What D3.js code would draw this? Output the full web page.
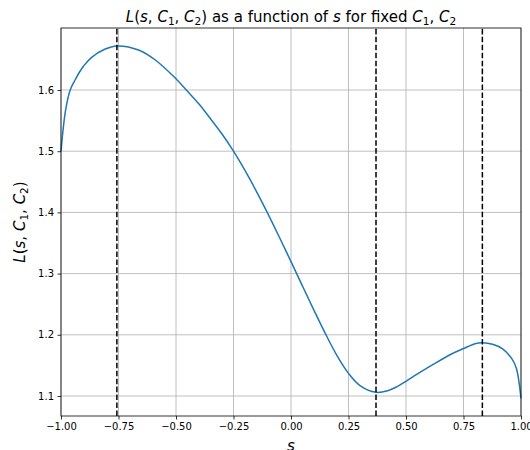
<!DOCTYPE html>
<html>
<head>
<meta charset="utf-8">
<script src="https://cdn.jsdelivr.net/npm/d3@7"></script>
<style>
  body { margin: 0; background: #fff; }
  text { font-family: "DejaVu Sans", sans-serif; }
</style>
</head>
<body>
<script>
'use strict';

// values
const sValues = [-1.00, -0.98, -0.96, -0.94, -0.92, -0.90, -0.868, -0.81, -0.757, -0.66, -0.59,
  -0.51, -0.45, -0.40, -0.35, -0.30, -0.25, -0.18, -0.11, -0.05, 0.00, 0.05, 0.10, 0.15,
  0.20, 0.25, 0.30, 0.3696, 0.42, 0.46, 0.50, 0.55, 0.62, 0.70, 0.75, 0.80, 0.832, 0.88,
  0.92, 0.96, 0.98, 1.00];
const lValues = [1.500, 1.567, 1.600, 1.6155, 1.629, 1.640, 1.653, 1.6665, 1.672, 1.665, 1.649,
  1.622, 1.598, 1.577, 1.553, 1.528, 1.500, 1.455, 1.405, 1.359, 1.3195, 1.2795, 1.240, 1.2015,
  1.166, 1.137, 1.117, 1.106, 1.1085, 1.115, 1.124, 1.136, 1.152, 1.169, 1.1775, 1.1855, 1.187, 1.184,
  1.177, 1.161, 1.145, 1.096];
const extremaS = [-0.757, 0.3696, 0.832];
const xTicks = [-1.00, -0.75, -0.50, -0.25, 0.00, 0.25, 0.50, 0.75, 1.00];
const yTicks = [1.1, 1.2, 1.3, 1.4, 1.5, 1.6];

const width = 530, height = 450;
const margin = { left: 61, right: 9, top: 28, bottom: 34 };

const svg = d3.select('body').append('svg')
  .attr('width', width)
  .attr('height', height);

const x = d3.scaleLinear().domain([-1, 1]).range([margin.left, width - margin.right]);
const y = d3.scaleLinear().domain([1.0673, 1.7013]).range([height - margin.bottom, margin.top]);

const fmtMinus = (s) => s.replace('-', '\u2212');

// grid
svg.append('g').selectAll('line')
  .data(xTicks).enter().append('line')
    .attr('x1', (d) => x(d)).attr('x2', (d) => x(d))
    .attr('y1', y.range()[0]).attr('y2', y.range()[1])
    .attr('stroke', '#b0b0b0').attr('stroke-width', 0.8);
svg.append('g').selectAll('line')
  .data(yTicks).enter().append('line')
    .attr('x1', x.range()[0]).attr('x2', x.range()[1])
    .attr('y1', (d) => y(d)).attr('y2', (d) => y(d))
    .attr('stroke', '#b0b0b0').attr('stroke-width', 0.8);

// the curve
const line = d3.line()
  .x((d, i) => x(sValues[i]))
  .y((d) => y(d))
  .curve(d3.curveCatmullRom.alpha(0.5));

svg.append('path')
  .datum(lValues)
  .attr('d', line)
  .attr('fill', 'none')
  .attr('stroke', '#1f77b4')
  .attr('stroke-width', 1.5);

// dashed lines at the extrema
svg.append('g').selectAll('line')
  .data(extremaS).enter().append('line')
    .attr('x1', (d) => x(d)).attr('x2', (d) => x(d))
    .attr('y1', y.range()[0]).attr('y2', y.range()[1])
    .attr('stroke', '#000')
    .attr('stroke-width', 1.5)
    .style('stroke-dasharray', '5.55, 2.4');

// axes
const xAxis = d3.axisBottom(x).tickValues(xTicks)
  .tickFormat((d) => fmtMinus(d3.format('.2f')(d)))
  .tickSizeInner(3.5).tickSizeOuter(0).tickPadding(3.5);
const gx = svg.append('g')
  .attr('transform', 'translate(0,' + y.range()[0] + ')')
  .call(xAxis);

const yAxis = d3.axisLeft(y).tickValues(yTicks)
  .tickFormat(d3.format('.1f'))
  .tickSizeInner(3.5).tickSizeOuter(0).tickPadding(3.5);
const gy = svg.append('g')
  .attr('transform', 'translate(' + x.range()[0] + ',0)')
  .call(yAxis);

[gx, gy].forEach((g) => {
  g.select('.domain').remove();
  g.selectAll('text').attr('font-family', '"DejaVu Sans", sans-serif')
    .attr('font-size', 10).attr('fill', '#000');
  g.selectAll('line').attr('stroke', '#000').attr('stroke-width', 0.8);
});

// frame
svg.append('rect')
  .attr('x', x.range()[0]).attr('y', y.range()[1])
  .attr('width', x.range()[1] - x.range()[0])
  .attr('height', y.range()[0] - y.range()[1])
  .attr('fill', 'none')
  .attr('stroke', '#000')
  .attr('stroke-width', 0.8);

// mathtext-like label helper: parts are [text, style]
function addMath(sel, parts) {
  parts.forEach((p) => {
    const t = sel.append('tspan').text(p[0]);
    if (p[1] === 'i') t.attr('font-style', 'italic');
    if (p[1] === 'sub') t.attr('font-size', '0.7em').attr('dy', '3');
    if (p[1] === 'up') t.attr('dy', '-3');
  });
}

const lParts = [['L', 'i'], ['(', ''], ['s', 'i'], [', ', ''], ['C', 'i'], ['1', 'sub'],
  [', ', 'up'], ['C', 'i'], ['2', 'sub'], [')', 'up']];

const title = svg.append('text')
  .attr('x', (x.range()[0] + x.range()[1]) / 2)
  .attr('y', 22)
  .attr('text-anchor', 'middle')
  .attr('font-size', 15)
  .attr('fill', '#000');
addMath(title, lParts.concat([[' as a function of ', ''], ['s', 'i'], [' for fixed ', ''],
  ['C', 'i'], ['1', 'sub'], [', ', 'up'], ['C', 'i'], ['2', 'sub']]));

const ylab = svg.append('text')
  .attr('transform', 'translate(25,' + (y.range()[0] + y.range()[1]) / 2 + ')rotate(-90)')
  .attr('text-anchor', 'middle')
  .attr('font-size', 15)
  .attr('fill', '#000');
addMath(ylab, lParts);

svg.append('text')
  .attr('x', (x.range()[0] + x.range()[1]) / 2)
  .attr('y', 451)
  .attr('text-anchor', 'middle')
  .attr('font-size', 15)
  .attr('font-style', 'italic')
  .attr('fill', '#000')
  .text('s');
</script>
</body>
</html>
